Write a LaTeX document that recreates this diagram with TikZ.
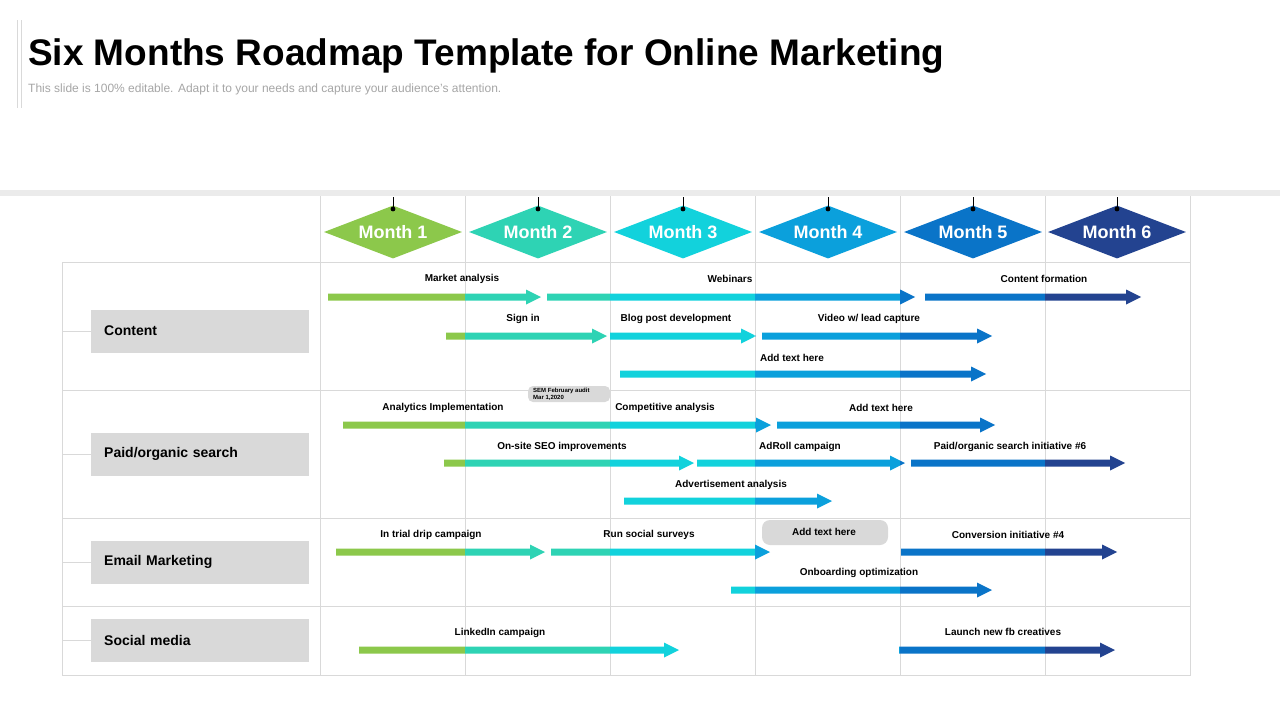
\documentclass[tikz,border=0pt]{standalone}
\usepackage{fontspec}
\setmainfont{Liberation Sans}
\usetikzlibrary{shapes.geometric}
\definecolor{mA}{HTML}{8CC84B}
\definecolor{mB}{HTML}{2ED3B4}
\definecolor{mC}{HTML}{12D2DC}
\definecolor{mD}{HTML}{0BA0DC}
\definecolor{mE}{HTML}{0A74C8}
\definecolor{mF}{HTML}{234390}
\definecolor{gridc}{HTML}{D9D9D9}
\definecolor{boxc}{HTML}{D9D9D9}
\tikzset{
 lbl/.style={font=\fontsize{10}{12}\selectfont\bfseries, inner sep=0pt},
 month/.style={diamond, aspect=2.6, minimum width=138pt, minimum height=53pt, inner sep=0pt, text=white, font=\fontsize{18}{20}\selectfont\bfseries},
 cat/.style={fill=boxc, minimum width=218pt, minimum height=43pt, anchor=west, text width=200pt, align=left, font=\fontsize{14}{16}\selectfont\bfseries, inner sep=0pt},
 grid/.style={draw=gridc, line width=0.8pt}
}
\newcommand{\rarr}[3]{%
 \begin{scope}
 \clip (#1,#3-3.5)--(#2-15,#3-3.5)--(#2-15,#3-7.5)--(#2,#3)--(#2-15,#3+7.5)--(#2-15,#3+3.5)--(#1,#3+3.5)--cycle;
 \fill[mA] (0,#3-9) rectangle (465,#3+9);
 \fill[mB] (465,#3-9) rectangle (610,#3+9);
 \fill[mC] (610,#3-9) rectangle (755,#3+9);
 \fill[mD] (755,#3-9) rectangle (900,#3+9);
 \fill[mE] (900,#3-9) rectangle (1045,#3+9);
 \fill[mF] (1045,#3-9) rectangle (1280,#3+9);
 \end{scope}}
\begin{document}
\begin{tikzpicture}[x=1pt,y=-1pt]
\useasboundingbox (0,0) rectangle (1280,720);
\fill[white] (0,0) rectangle (1280,720);
\draw[gridc, line width=0.8pt] (17,20)--(17,108) (21,20)--(21,108);
\node[anchor=west, font=\fontsize{37}{40}\selectfont\bfseries, inner sep=0pt] (title) at (28,56) {Six Months Roadmap Template for Online Marketing};
\node[anchor=west, font=\fontsize{12}{14}\selectfont, text=gray!70, inner sep=0pt] (sub) at (28,89) {This slide is 100\% editable. Adapt it to your needs and capture your audience’s attention.};
\fill[black!8] (0,190) rectangle (1280,196);
% grid
\draw[grid] (62,262) rectangle (1190,675);
\foreach \yy in {390,518,606} \draw[grid] (62,\yy)--(1190,\yy);
\foreach \xx in {320,465,610,755,900,1045} \draw[grid] (\xx,196)--(\xx,675);
\draw[grid] (1190,196)--(1190,262);
% months
\foreach \i/\c/\xx in {1/mA/393,2/mB/538,3/mC/683,4/mD/828,5/mE/973,6/mF/1117}{
 \node[month, fill=\c] (m\i) at (\xx,232) {Month \i};
 \draw[line width=1pt] (\xx,197)--(\xx,209);
 \fill (\xx,209) circle (2.4);
}
% categories
\foreach \n/\t/\yy in {c1/Content/331,c2/Paid\slash organic search/454,c3/Email Marketing/562,c4/Social media/640}{
 \node[cat] (\n) at (91,\yy) {\hspace*{4pt}\t};
 \draw[grid] (62,\yy)--(\n.west);
}
% arrows
\rarr{328}{541}{297}\rarr{547}{915}{297}\rarr{925}{1141}{297}
\rarr{446}{607}{336}\rarr{610}{756}{336}\rarr{762}{992}{336}
\rarr{620}{986}{374}
\rarr{343}{771}{425}\rarr{777}{995}{425}
\rarr{444}{694}{463}\rarr{697}{905}{463}\rarr{911}{1125}{463}
\rarr{624}{832}{501}
\rarr{336}{545}{552}\rarr{551}{770}{552}\rarr{901}{1117}{552}
\rarr{731}{992}{590}
\rarr{359}{679}{650}\rarr{899}{1115}{650}
% labels
\node[lbl] (l1) at (462,279) {Market analysis};
\node[lbl] (l2) at (730,279) {Webinars};
\node[lbl] (l3) at (1044,279) {Content formation};
\node[lbl] (l4) at (523,319) {Sign in};
\node[lbl] (l5) at (676,319) {Blog post development};
\node[lbl] (l6) at (869,319) {Video w/ lead capture};
\node[lbl] (l7) at (792,358) {Add text here};
\node[lbl] (l8) at (443,408) {Analytics Implementation};
\node[lbl] (l9) at (665,408) {Competitive analysis};
\node[lbl] (l10) at (881,408) {Add text here};
\node[lbl] (l11) at (562,447) {On-site SEO improvements};
\node[lbl] (l12) at (800,447) {AdRoll campaign};
\node[lbl] (l13) at (1010,447) {Paid/organic search initiative \#6};
\node[lbl] (l14) at (731,485) {Advertisement analysis};
\node[lbl] (l15) at (431,535) {In trial drip campaign};
\node[lbl] (l16) at (649,535) {Run social surveys};
\node[lbl] (l17) at (1008,535) {Conversion initiative \#4};
\node[lbl] (l18) at (859,573) {Onboarding optimization};
\node[lbl] (l19) at (500,633) {LinkedIn campaign};
\node[lbl] (l20) at (1003,632) {Launch new fb creatives};
% tabs
\fill[boxc, rounded corners=8pt] (762,545)--(762,520)--(888,520)--(888,545)--cycle;
\node[lbl] (t1) at (824,532) {Add text here};
\fill[boxc, rounded corners=5pt] (528,402)--(528,386)--(610,386)--(610,402)--cycle;
\node[anchor=west, align=left, font=\fontsize{6}{7}\selectfont\bfseries, inner sep=0pt] (t2) at (533,394) {SEM February audit\\Mar 1,2020};
\end{tikzpicture}
\end{document}
